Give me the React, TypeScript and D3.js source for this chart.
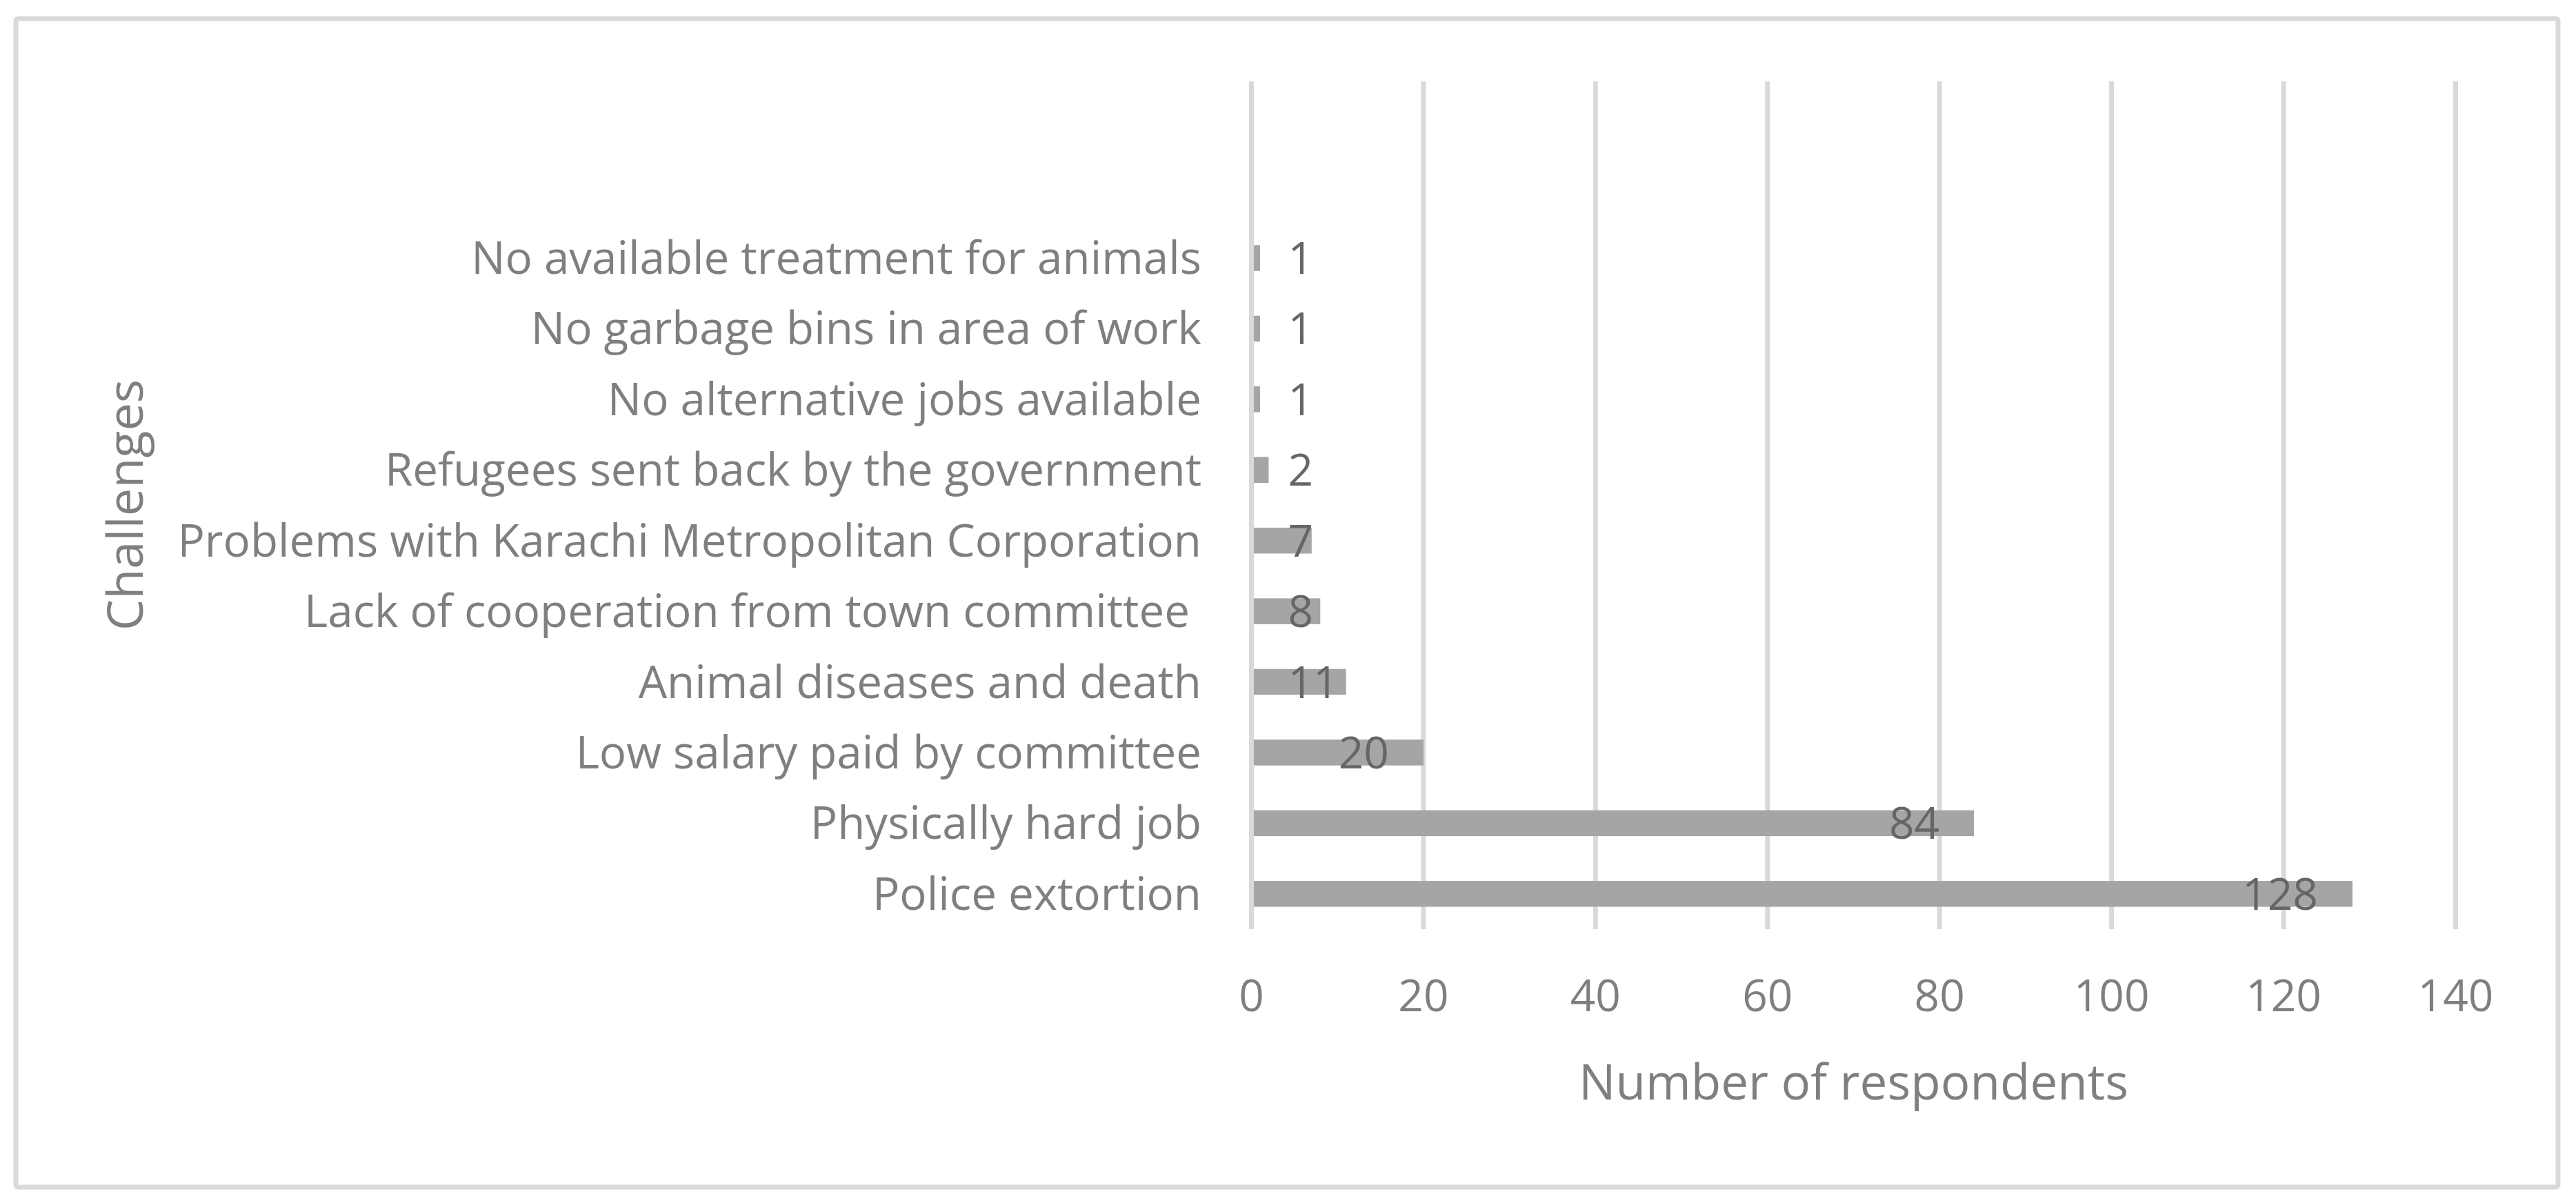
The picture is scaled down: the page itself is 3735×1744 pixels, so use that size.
import * as React from 'react'
import * as d3 from 'd3'

// categories listed top to bottom as they appear in the chart
const categories = [
    'No available treatment for animals',
    'No garbage bins in area of work',
    'No alternative jobs available',
    'Refugees sent back by the government',
    'Problems with Karachi Metropolitan Corporation',
    'Lack of cooperation from town committee ',
    'Animal diseases and death',
    'Low salary paid by committee',
    'Physically hard job',
    'Police extortion',
]
const respondents = [1, 1, 1, 2, 7, 8, 11, 20, 84, 128]
const xTicks = [0, 20, 40, 60, 80, 100, 120, 140]
// the source sheet has two empty rows above the data
const emptyRows = ['__empty1', '__empty2']

const W = 3735
const H = 1744
const font = "'Open Sans', 'Noto Sans', sans-serif"
const plot = { left: 1814.5, right: 3560.5, top: 118, bottom: 1347 }

export default function App() {
    const x = d3.scaleLinear().domain([0, 140]).range([plot.left, plot.right])
    const y = d3.scaleBand<string>()
        .domain([...emptyRows, ...categories])
        .range([plot.top, plot.bottom])
        .paddingInner(0.634)
        .paddingOuter(0.317)

    const labelSize = 64
    const digitW = 0.572 * labelSize

    return (
        <svg width={W} height={H} viewBox={`0 0 ${W} ${H}`}
            style={{ position: 'absolute', left: 0, top: 0, background: '#fff' }}>
            <rect x={23} y={27} width={3709 - 23} height={1721 - 27} rx={3}
                fill='#fff' stroke='#d9d9d9' strokeWidth={7} />

            {/* gridlines */}
            {xTicks.map(t => (
                <line key={'g' + t} x1={x(t)} x2={x(t)} y1={plot.top} y2={plot.bottom}
                    stroke='#d9d9d9' strokeWidth={7} />
            ))}

            {/* bars */}
            {categories.map((c, i) => (
                <rect key={'b' + c} x={x(0) + 3.5} y={y(c)}
                    width={Math.max(0, x(respondents[i]) - x(0) - 3.5)} height={y.bandwidth()}
                    fill='#a5a5a5' />
            ))}

            {/* data labels, inside end */}
            {categories.map((c, i) => {
                const v = respondents[i]
                const w = String(v).length * digitW
                const right = Math.max(x(v) - 50, x(0) + 53 + w)
                return (
                    <text key={'d' + c} x={right} y={(y(c) ?? 0) + y.bandwidth() / 2 + 23}
                        textAnchor='end' fontFamily={font} fontSize={labelSize} fill='#666666'>
                        {v}
                    </text>
                )
            })}

            {/* category labels */}
            {categories.map(c => (
                <text key={'c' + c} x={1742} y={(y(c) ?? 0) + y.bandwidth() / 2 + 23}
                    textAnchor='end' fontFamily={font} fontSize={65.5} fill='#7f7f7f'
                    style={{ whiteSpace: 'pre' }}>
                    {c}
                </text>
            ))}

            {/* x tick labels */}
            {xTicks.map(t => (
                <text key={'t' + t} x={x(t)} y={1466} textAnchor='middle'
                    fontFamily={font} fontSize={64} fill='#7f7f7f'>
                    {t}
                </text>
            ))}

            <text x={(plot.left + plot.right) / 2} y={1594} textAnchor='middle'
                fontFamily={font} fontSize={71} fill='#7f7f7f'>
                Number of respondents
            </text>

            <text transform={`translate(207, 732) rotate(-90)`} textAnchor='middle'
                fontFamily={font} fontSize={72} fill='#7f7f7f'>
                Challenges
            </text>
        </svg>
    )
}
